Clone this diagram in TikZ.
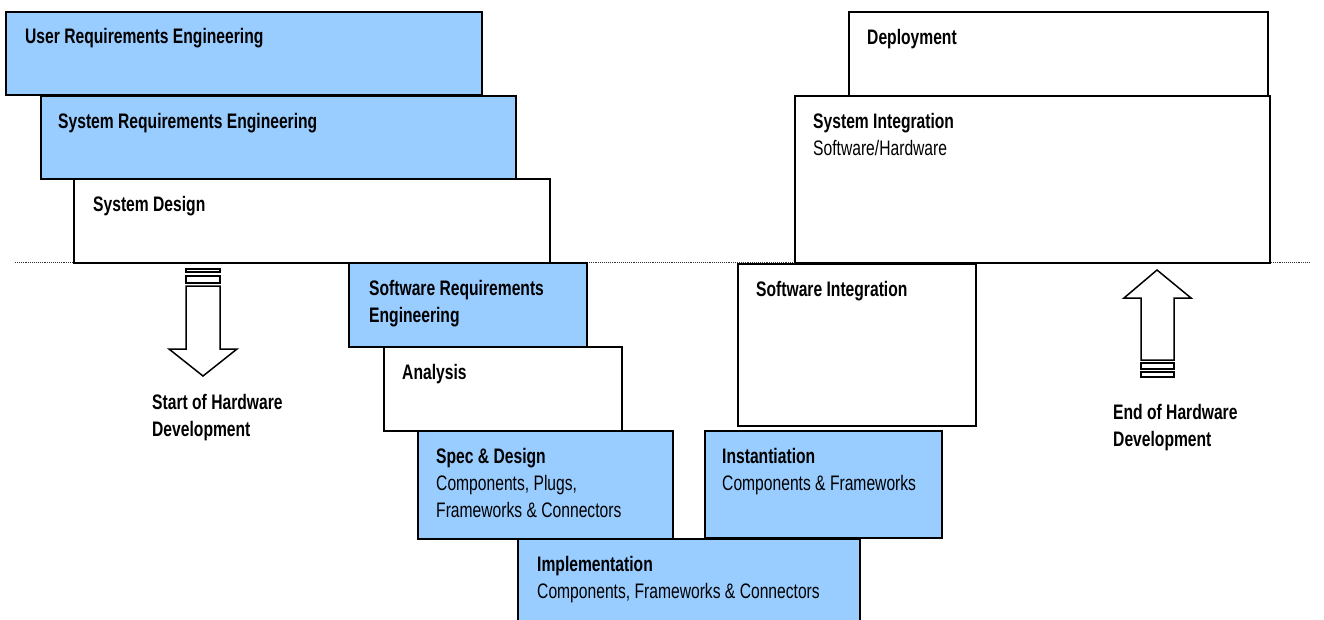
\documentclass[tikz,border=0pt]{standalone}
\usepackage{fontspec}
\setmainfont{Liberation Sans}[FakeStretch=0.745]
\begin{document}
\begin{tikzpicture}[x=1pt,y=-1pt,
  phase/.style={draw=black, line width=1.8pt, inner sep=0pt, anchor=north west},
  blue/.style={phase, fill=phasefill},
  white/.style={phase, fill=white},
  % captions are anchored at the baseline of their last line
  lbl/.style={anchor=base west, inner sep=0pt, align=left,
    font=\fontsize{21}{27}\selectfont},
  bar/.style={draw=black, line width=1.2pt, fill=white},
  bigarrow/.style={draw=black, line width=1.5pt, fill=white, line join=miter}]
\definecolor{phasefill}{HTML}{99CCFF}
\useasboundingbox (0,0) rectangle (1324,619);

% separator between system level and software level
\coordinate (sepL) at (15,262);
\coordinate (sepR) at (1310,262);
\draw[line width=0.9pt, densely dotted, black!80] (sepL) -- (sepR);

% left leg of the V
\node[blue,  minimum width=476pt, minimum height=83pt] (ure) at (5,11) {};
\node[blue,  minimum width=475pt, minimum height=83pt] (sre) at (40,95) {};
\node[white, minimum width=476pt, minimum height=84pt] (sd)  at (73,178) {};
\node[blue,  minimum width=238pt, minimum height=84pt] (swr) at (348,262) {};
\node[white, minimum width=238pt, minimum height=84pt] (ana) at (383,346) {};
\node[blue,  minimum width=255pt, minimum height=108pt] (spec) at (417,430) {};
\node[blue,  minimum width=342pt, minimum height=90pt] (impl) at (517,538) {};

% right leg of the V
\node[white, minimum width=419pt, minimum height=84pt] (dep) at (848,11) {};
\node[white, minimum width=475pt, minimum height=167pt] (sysi) at (794,95) {};
\node[white, minimum width=238pt, minimum height=162pt] (swi) at (737,263) {};
\node[blue,  minimum width=237pt, minimum height=107pt] (inst) at (704,430) {};

% phase captions (first baseline 33pt below the box top)
\node[lbl] (ure-t)  at ([xshift=20pt,yshift=-32pt]ure.north west) {\textbf{User Requirements Engineering}};
\node[lbl] (sre-t)  at ([xshift=18pt,yshift=-33pt]sre.north west) {\textbf{System Requirements Engineering}};
\node[lbl] (sd-t)   at ([xshift=20pt,yshift=-33pt]sd.north west) {\textbf{System Design}};
\node[lbl] (swr-t)  at ([xshift=21pt,yshift=-60pt]swr.north west) {\textbf{Software Requirements}\\\textbf{Engineering}};
\node[lbl] (ana-t)  at ([xshift=19pt,yshift=-33pt]ana.north west) {\textbf{Analysis}};
\node[lbl] (spec-t) at ([xshift=19pt,yshift=-87pt]spec.north west) {\textbf{Spec \& Design}\\Components, Plugs,\\Frameworks \& Connectors};
\node[lbl] (impl-t) at ([xshift=20pt,yshift=-60pt]impl.north west) {\textbf{Implementation}\\Components, Frameworks \& Connectors};
\node[lbl] (dep-t)  at ([xshift=19pt,yshift=-33pt]dep.north west) {\textbf{Deployment}};
\node[lbl] (sysi-t) at ([xshift=19pt,yshift=-60pt]sysi.north west) {\textbf{System Integration}\\Software/Hardware};
\node[lbl] (swi-t)  at ([xshift=19pt,yshift=-33pt]swi.north west) {\textbf{Software Integration}};
\node[lbl] (inst-t) at ([xshift=18pt,yshift=-60pt]inst.north west) {\textbf{Instantiation}\\Components \& Frameworks};

% start of hardware development: downward block arrow
\draw[bar] (186,269) rectangle (220,272);
\draw[bar] (186,276) rectangle (220,283);
\draw[bigarrow] (186,286) -- (220,286) -- (220,349) -- (237,349) -- (203,376)
  -- (169,349) -- (186,349) -- cycle;
\node[lbl] (hw-start) at (152,436) {\textbf{Start of Hardware}\\\textbf{Development}};

% end of hardware development: upward block arrow
\draw[bigarrow] (1141,360) -- (1174,360) -- (1174,298) -- (1191,298) -- (1157,270)
  -- (1124,298) -- (1141,298) -- cycle;
\draw[bar] (1141,363) rectangle (1174,369);
\draw[bar] (1141,372) rectangle (1174,377);
\node[lbl] (hw-end) at (1113,446) {\textbf{End of Hardware}\\\textbf{Development}};
\end{tikzpicture}
\end{document}
